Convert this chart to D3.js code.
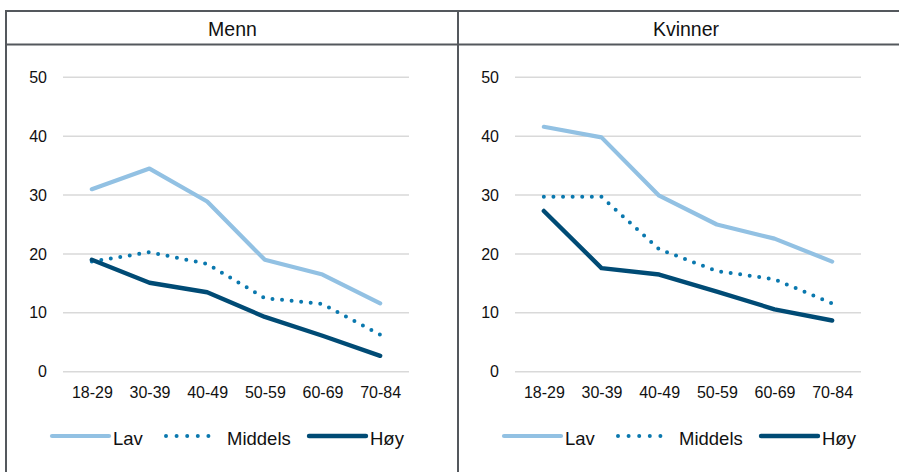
<!DOCTYPE html>
<html>
<head>
<meta charset="utf-8">
<script src="https://cdn.jsdelivr.net/npm/d3@7"></script>
<style>
  body { margin: 0; background: #fff; }
  svg { display: block; font-family: "Liberation Sans", Arial, sans-serif; }
</style>
</head>
<body>
<div id="app"></div>
<script>
let categories = ['18-29', '30-39', '40-49', '50-59', '60-69', '70-84'];
let panels = ['Menn', 'Kvinner'];
let seriesNames = ['Lav', 'Middels', 'Høy'];
let yTicks = [0, 10, 20, 30, 40, 50];

// Menn
let mennLav = [31.0, 34.5, 28.9, 19.0, 16.5, 11.6];
let mennMiddels = [18.7, 20.3, 18.3, 12.5, 11.5, 6.3];
let mennHoy = [19.0, 15.1, 13.5, 9.3, 6.1, 2.7];

// Kvinner
let kvinnerLav = [41.6, 39.8, 29.9, 25.0, 22.6, 18.7];
let kvinnerMiddels = [29.7, 29.7, 20.8, 17.1, 15.7, 11.6];
let kvinnerHoy = [27.3, 17.6, 16.5, 13.6, 10.6, 8.7];

let panelData = [
  [mennLav, mennMiddels, mennHoy],
  [kvinnerLav, kvinnerMiddels, kvinnerHoy]
];

let styles = [
  { color: '#92c1e3', width: 4.2, dash: null },
  { color: '#0a78ae', width: 4, dash: '0 9.6' },
  { color: '#004b75', width: 4.4, dash: null }
];

let W = 899, H = 472;
let border = '#54585d';
let fontFam = '"Liberation Sans", Arial, sans-serif';

let svg = d3.select('#app').append('svg')
  .attr('width', W)
  .attr('height', H);

// frame
let frame = svg.append('g');
frame.append('line').attr('x1', 6).attr('x2', W).attr('y1', 11).attr('y2', 11)
  .attr('stroke', border).attr('stroke-width', 2);
frame.append('line').attr('x1', 6).attr('x2', W).attr('y1', 44.5).attr('y2', 44.5)
  .attr('stroke', border).attr('stroke-width', 2);
frame.append('line').attr('x1', 6).attr('x2', 6).attr('y1', 10).attr('y2', H)
  .attr('stroke', border).attr('stroke-width', 2);
frame.append('line').attr('x1', 458).attr('x2', 458).attr('y1', 10).attr('y2', H)
  .attr('stroke', border).attr('stroke-width', 2);

let panelLayout = [
  { titleX: 232.5, left: 63, right: 409, labelX: 47, legendX: 52 },
  { titleX: 686, left: 515, right: 861, labelX: 499, legendX: 504 }
];

let yScale = d3.scaleLinear()
  .domain([0, 50])
  .range([371.7, 77.3]);

panels.forEach(function(name, p) {
  let lay = panelLayout[p];
  let g = svg.append('g');

  g.append('text')
    .attr('x', lay.titleX)
    .attr('y', 36)
    .attr('text-anchor', 'middle')
    .style('font-size', '19.5px')
    .style('fill', '#111')
    .text(name);

  let xScale = d3.scalePoint()
    .domain(categories)
    .range([lay.left, lay.right])
    .padding(0.5);

  // gridlines
  g.selectAll('.grid')
    .data(yTicks)
    .enter()
    .append('line')
      .attr('x1', lay.left)
      .attr('x2', lay.right)
      .attr('y1', d => yScale(d))
      .attr('y2', d => yScale(d))
      .attr('stroke', '#d9d9d9')
      .attr('stroke-width', 1.5);

  // y axis labels
  let yAxis = d3.axisLeft(yScale).tickValues(yTicks).tickSize(0).tickPadding(0);
  let yG = g.append('g')
    .attr('transform', `translate(${lay.labelX}, 0)`)
    .call(yAxis);
  yG.select('.domain').remove();
  yG.selectAll('text')
    .style('font-family', fontFam)
    .style('font-size', '16px')
    .style('fill', '#111');

  // x axis labels
  let xAxis = d3.axisBottom(xScale).tickSize(0).tickPadding(0);
  let xG = g.append('g')
    .attr('transform', 'translate(0, 387)')
    .call(xAxis);
  xG.select('.domain').remove();
  xG.selectAll('text')
    .style('font-family', fontFam)
    .style('font-size', '16px')
    .style('fill', '#111');

  let line = d3.line()
    .x((d, i) => xScale(categories[i]))
    .y(d => yScale(d));

  panelData[p].forEach(function(values, s) {
    let st = styles[s];
    let path = g.append('path')
      .datum(values)
      .attr('d', line)
      .attr('fill', 'none')
      .attr('stroke', st.color)
      .attr('stroke-width', st.width)
      .attr('stroke-linecap', 'round')
      .attr('stroke-linejoin', 'round');
    if (st.dash) path.attr('stroke-dasharray', st.dash);
  });

  // legend
  let legY = 436;
  let legOffsets = [0, 114, 257];
  seriesNames.forEach(function(nm, s) {
    let st = styles[s];
    let x0 = lay.legendX + legOffsets[s];
    let ln = g.append('line')
      .attr('x1', x0).attr('x2', x0 + 57)
      .attr('y1', legY).attr('y2', legY)
      .attr('stroke', st.color)
      .attr('stroke-width', st.width)
      .attr('stroke-linecap', 'round');
    if (st.dash) {
      ln.attr('x2', x0 + 53).attr('stroke-dasharray', '0 10.6');
    }
    g.append('text')
      .attr('x', x0 + 61)
      .attr('y', 444.5)
      .style('font-size', '18.5px')
      .style('fill', '#111')
      .text(nm);
  });
});
</script>
</body>
</html>
